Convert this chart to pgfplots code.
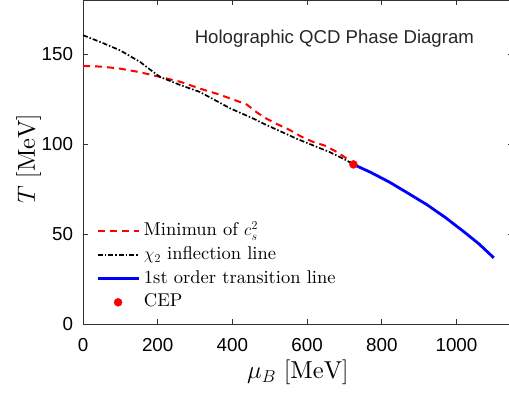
\documentclass[border=0pt]{standalone}
\usepackage{pgfplots}
\pgfplotsset{compat=1.18}
\usepackage{fontspec}
\setmainfont{lmroman10-regular.otf}[ItalicFont=lmroman10-italic.otf, BoldFont=lmroman10-bold.otf]
\newfontfamily\helv{Liberation Sans}
\pgfplotsset{
  linelegend/.style={legend image code/.code={\draw[##1] (0pt,0pt) -- (41pt,0pt);}},
  dotlegend/.style={legend image code/.code={\draw[##1] plot coordinates {(20.5pt,0pt)};}},
}
\begin{document}
\begin{tikzpicture}
\begin{axis}[
  at={(0,0)}, anchor=south west,
  scale only axis, width=429.5pt, height=323.5pt,
  xmin=0, xmax=1150, ymin=0, ymax=180,
  xtick={0,200,400,600,800,1000}, ytick={0,50,100,150},
  tick align=inside, major tick length=5pt,
  axis line style={black!80, line width=0.8pt},
  every tick/.style={black!80, line width=0.8pt},
  ticklabel style={font=\helv\fontsize{18.8}{22}\selectfont},
  xticklabel style={yshift=-10.5pt},
  yticklabel style={xshift=-6.5pt},
  /pgf/number format/assume math mode=true,
  /pgf/number format/1000 sep={},
  xlabel={$\mu_B\ [\mathrm{MeV}]$},
  ylabel={$T\ [\mathrm{MeV}]$},
  label style={font=\fontsize{24.5}{29}\selectfont},
  x label style={at={(axis description cs:0.5,-0.1113)}, anchor=north, inner sep=0pt},
  y label style={at={(axis description cs:-0.097,0.51)}, anchor=south, inner sep=0pt},
  legend style={draw=none, fill=none, at={(0,0)}, anchor=south west, xshift=13pt, yshift=13pt,
    font=\fontsize{18.5}{22}\selectfont, inner sep=0pt, row sep=6.6pt,
    nodes={inner sep=0pt, text height=13pt, text depth=4pt},
    /tikz/every odd column/.style={column sep=4pt}},
  legend cell align=left,
  linelegend,
]
\addplot[red, line width=2pt, dash pattern=on 7pt off 5pt] coordinates {
(0,143.6) (50,143.2) (99,142.1) (150,140.2) (206,137.5) (260,134.8) (313,131.0)
(360,128.0) (402,124.9) (438,122.2) (465,117.8) (491,114.3) (520,111.2) (554,107.9)
(585,104.2) (616,101.3) (647,99.3) (679,95.8) (705,92.2) (724,88.8)};
\addlegendentry{Minimun of $c_s^2$}
\addplot[black, line width=1.7pt, dash pattern=on 5pt off 2pt on 1.5pt off 2pt] coordinates {
(0,160.7) (50,156.6) (99,152.3) (153,145.8) (180,141.5) (206,137.5) (260,133.0) (313,129.1)
(394,120.0) (456,114.3) (483,111.5) (572,103.1) (661,95.6) (706,91.0) (724,88.8)};
\addlegendentry{$\chi_2$ inflection line}
\addplot[blue, line width=2.8pt] coordinates {
(724,88.8) (770,84.4) (820,79.0) (870,72.8) (920,66.5) (970,59.3) (1020,51.3) (1060,44.6) (1100,36.8)};
\addlegendentry{1st order transition line}
\addplot[red, only marks, mark=*, mark size=4pt, dotlegend] coordinates {(724,88.8)};
\addlegendentry{CEP}
\node[font=\helv\fontsize{18.6}{22}\selectfont, text=black!85] at (axis cs:673,159) {Holographic QCD Phase Diagram};
\end{axis}
\pgfresetboundingbox
\path[use as bounding box] (-83pt,-69pt) rectangle (426pt,324pt);
\end{tikzpicture}
\end{document}
